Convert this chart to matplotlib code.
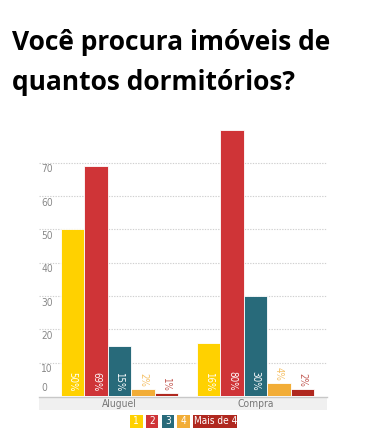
import matplotlib
matplotlib.use("Agg")
import matplotlib.pyplot as plt
from matplotlib.patches import Rectangle
from matplotlib import font_manager as fm

categories = ["Aluguel", "Compra"]
series_names = ["1", "2", "3", "4", "Mais de 4"]
series_values = {
    "1": [50, 16],
    "2": [69, 80],
    "3": [15, 30],
    "4": [2, 4],
    "Mais de 4": [1, 2],
}
series_colors = ["#FFD100", "#CF3437", "#286A7A", "#F2AD37", "#B0281F"]
y_ticks = [0, 10, 20, 30, 40, 50, 60, 70]
title_lines = ["Você procura imóveis de", "quantos dormitórios?"]

names = {f.name for f in fm.fontManager.ttflist}
if "Liberation Sans Narrow" in names:
    NF = dict(family="Liberation Sans Narrow")
elif "DejaVu Sans Condensed" in names:
    NF = dict(family="DejaVu Sans Condensed")
else:
    NF = dict(family="DejaVu Sans", fontstretch="condensed")

W, H = 367, 446
fig = plt.figure(figsize=(W / 100, H / 100), dpi=100)
fig.patch.set_facecolor("white")

# plot area in pixels
L, R, T, B = 39, 327, 125, 396
ax = fig.add_axes([L / W, 1 - B / H, (R - L) / W, (B - T) / H])
px_per_unit = 136.0
c0 = 119.5
ax.set_xlim(-(c0 - L) / px_per_unit, -(c0 - L) / px_per_unit + (R - L) / px_per_unit)
ax.set_ylim(0, (B - T) / 3.33)
ax.axis("off")

# gridlines
for t in y_ticks[1:]:
    ax.axhline(t, color="#d0d0d0", lw=0.8, ls=(0, (1.2, 1.2)), zorder=0)

# y tick labels inside plot area
for t in y_ticks:
    if t == 0:
        ax.annotate(str(t), (0, t), xycoords=("axes fraction", "data"),
                    xytext=(2, 3), textcoords="offset pixels",
                    ha="left", va="bottom", fontsize=7.3, color="#888888", **NF)
    else:
        ax.annotate(str(t), (0, t), xycoords=("axes fraction", "data"),
                    xytext=(2, -1.5), textcoords="offset pixels",
                    ha="left", va="top", fontsize=7.3, color="#888888", **NF)

bw = 23.4 / px_per_unit
n = len(series_names)
for i, (name, col) in enumerate(zip(series_names, series_colors)):
    vals = series_values[name]
    xs = [k + (i - (n - 1) / 2) * bw for k in range(len(categories))]
    ax.bar(xs, vals, width=bw, color=col, edgecolor="#ffffff", linewidth=0.6, zorder=2)
    for x, v in zip(xs, vals):
        lab = f"{v}%"
        if v >= 10:
            ax.annotate(lab, (x, 0), xytext=(0, 5), textcoords="offset pixels",
                        ha="center", va="bottom", rotation=270, fontsize=7.0,
                        color="white", zorder=3, **NF)
        else:
            ax.annotate(lab, (x, v), xytext=(0, 2), textcoords="offset pixels",
                        ha="center", va="bottom", rotation=270, fontsize=7.0,
                        color=col, alpha=0.75, zorder=3, **NF)

# overlay axes in pixel coordinates
ov = fig.add_axes([0, 0, 1, 1], zorder=-1)
ov.set_xlim(0, W)
ov.set_ylim(H, 0)
ov.axis("off")

# x-axis band
ov.add_patch(Rectangle((L, 397), R - L, 13, facecolor="#f0f0f0", edgecolor="none"))
ov.plot([L, R], [396.8, 396.8], color="#c8c8c8", lw=1.0)
for k, cat in enumerate(categories):
    cx = c0 + k * px_per_unit
    ov.text(cx, 404, cat, ha="center", va="center", fontsize=7.4,
            color="#777777", **NF)

# title
ov.text(12, 50, title_lines[0], ha="left", va="baseline", fontsize=19.0,
        fontweight="bold", family="Open Sans", color="#000000")
ov.text(12, 90, title_lines[1], ha="left", va="baseline", fontsize=19.0,
        fontweight="bold", family="Open Sans", color="#000000")

# legend
box_w = [12.5, 12.5, 12.5, 12.5, 44]
x = 130
gap = 3.3
for name, col, bwid in zip(series_names, series_colors, box_w):
    ov.add_patch(Rectangle((x, 415), bwid, 12.5, facecolor=col, edgecolor="none"))
    ov.text(x + bwid / 2, 421.5, name, ha="center", va="center", fontsize=7.2,
            color="white", **NF)
    x += bwid + gap

fig.savefig("out.png", dpi=100, facecolor="white")
